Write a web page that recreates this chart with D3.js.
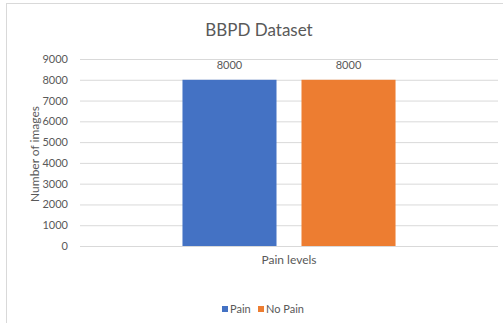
<!DOCTYPE html>
<html>
<head>
<meta charset="utf-8">
<script src="https://cdn.jsdelivr.net/npm/d3@7"></script>
<style>
  html, body { margin: 0; padding: 0; background: #fff; }
  svg { display: block; }
  text { font-family: Lato, "Open Sans", sans-serif; fill: #595959; }
</style>
</head>
<body>
<svg id="chart" width="503" height="323"></svg>
<script>
// Chart data
const categories = ["Pain levels"];
const seriesNames = ["Pain", "No Pain"];
const seriesValues = [8000, 8000];
const seriesColors = ["#4472C4", "#ED7D31"];
const yTicks = [0, 1000, 2000, 3000, 4000, 5000, 6000, 7000, 8000, 9000];

const svg = d3.select("#chart");
const W = 503, H = 323;

// Chart area frame
svg.append("rect")
  .attr("x", 6.5).attr("y", 3.5)
  .attr("width", W).attr("height", H + 10)
  .attr("fill", "#fff").attr("stroke", "#d9d9d9").attr("stroke-width", 1);

const plot = { left: 80, right: 498, top: 59, bottom: 246 };

const y = d3.scaleLinear().domain([0, 9000]).range([plot.bottom, plot.top]);
const x0 = d3.scaleBand().domain(categories)
  .range([plot.left, plot.right]).paddingInner(0).paddingOuter(0.481);
const x1 = d3.scaleBand().domain(seriesNames)
  .range([0, x0.bandwidth()]).paddingInner(0.21).paddingOuter(0);

// Gridlines and value ticks
const yAxis = d3.axisLeft(y).tickValues(yTicks).tickFormat(d3.format("d"))
  .tickSize(-(plot.right - plot.left)).tickPadding(12);
const gy = svg.append("g").attr("transform", `translate(${plot.left},0)`).call(yAxis);
gy.select(".domain").remove();
gy.selectAll(".tick line").attr("stroke", "#d9d9d9").attr("stroke-width", 1);
gy.selectAll(".tick text")
  .attr("font-family", "Lato, 'Open Sans', sans-serif")
  .attr("font-size", 11).attr("fill", "#595959");

// Bars
const group = svg.append("g")
  .selectAll("g").data(categories).join("g")
  .attr("transform", d => `translate(${x0(d)},0)`);

const rows = seriesNames.map((s, i) => ({ name: s, value: seriesValues[i], color: seriesColors[i] }));

group.selectAll("rect").data(rows).join("rect")
  .attr("x", d => x1(d.name))
  .attr("y", d => y(d.value))
  .attr("width", x1.bandwidth())
  .attr("height", d => y(0) - y(d.value))
  .attr("fill", d => d.color);

// Value labels
group.selectAll("text.val").data(rows).join("text")
  .attr("class", "val")
  .attr("x", d => x1(d.name) + x1.bandwidth() / 2)
  .attr("y", d => y(d.value) - 11)
  .attr("text-anchor", "middle")
  .attr("font-size", 11)
  .text(d => d.value);

// Title
svg.append("text")
  .attr("x", (plot.left + plot.right) / 2 - 30)
  .attr("y", 36)
  .attr("text-anchor", "middle")
  .attr("font-size", 17)
  .text("BBPD Dataset");

// Category axis title
svg.append("text")
  .attr("x", (plot.left + plot.right) / 2)
  .attr("y", 264)
  .attr("text-anchor", "middle")
  .attr("font-size", 12)
  .text(categories[0]);

// Y axis title
svg.append("text")
  .attr("transform", `translate(39,154) rotate(-90)`)
  .attr("text-anchor", "middle")
  .attr("font-size", 12)
  .text("Number of images");

// Legend
const legendItems = [
  { name: seriesNames[0], color: seriesColors[0], x: 222 },
  { name: seriesNames[1], color: seriesColors[1], x: 258 }
];
const lg = svg.append("g").selectAll("g").data(legendItems).join("g")
  .attr("transform", d => `translate(${d.x},313)`);
lg.append("rect").attr("x", 0).attr("y", -7).attr("width", 6).attr("height", 6)
  .attr("fill", d => d.color);
lg.append("text").attr("x", 8).attr("y", 0).attr("font-size", 11)
  .text(d => d.name);
</script>
</body>
</html>
